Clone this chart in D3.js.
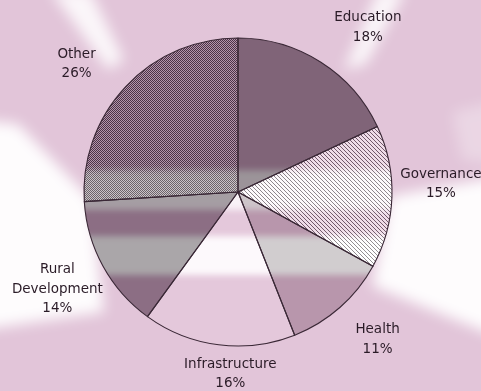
<!DOCTYPE html>
<html>
<head>
<meta charset="utf-8">
<script src="https://cdn.jsdelivr.net/npm/d3@7"></script>
<style>
  html, body { margin: 0; padding: 0; background: #e2c5d9; }
  svg { display: block; }
  text { font-family: "DejaVu Sans", Verdana, sans-serif; font-size: 13.5px; fill: #2a1b27; }
</style>
</head>
<body>
<svg id="chart" width="481" height="391"></svg>
<script>
// Funding share by sector (percent)
const categories = ["Education", "Governance", "Health", "Infrastructure", "Rural Development", "Other"];
const shares = [18, 15, 11, 16, 14, 26];
const labelLines = [["Education"], ["Governance"], ["Health"], ["Infrastructure"], ["Rural", "Development"], ["Other"]];

// slice fills (solid colours or pattern ids defined below)
const sliceFills = ["#806478", "url(#hatch)", "#b896ac", "#e4c8db", "#8c6e84", "url(#checker)"];
// small nudges that move each label box off the centroid ray
const labelNudge = [[20, 7], [-2, -16], [4, -8], [18, -23], [-1, -3], [-12, 11]];

const W = 481, H = 391;
const cx = 238, cy = 192, R = 154, labelR = 205, lineH = 19.5;

const svg = d3.select("#chart");
const defs = svg.append("defs");

// diagonal hatch
const hatch = defs.append("pattern").attr("id", "hatch")
  .attr("patternUnits", "userSpaceOnUse").attr("width", 4).attr("height", 4);
hatch.append("rect").attr("width", 4).attr("height", 4).attr("fill", "#efdce8");
hatch.append("path").attr("d", "M-1,-1L5,5M-1,3L1,5M3,-1L5,1")
  .attr("stroke", "#5a4054").attr("stroke-width", 0.85);

// fine checker dots
const checker = defs.append("pattern").attr("id", "checker")
  .attr("patternUnits", "userSpaceOnUse").attr("width", 2).attr("height", 2);
checker.append("rect").attr("width", 2).attr("height", 2).attr("fill", "#b495ab");
checker.append("rect").attr("x", 0).attr("y", 0).attr("width", 1).attr("height", 1).attr("fill", "#4b3347");
checker.append("rect").attr("x", 1).attr("y", 1).attr("width", 1).attr("height", 1).attr("fill", "#4b3347");

// soft blur for the background light streaks
defs.append("filter").attr("id", "soft").attr("x", "-50%").attr("y", "-50%").attr("width", "200%").attr("height", "200%")
  .append("feGaussianBlur").attr("stdDeviation", 7);

// washed-out grey look for the light bands crossing the pie
const wash = defs.append("filter").attr("id", "wash").attr("color-interpolation-filters", "sRGB");
const k = 0.93, off = 0.215;
wash.append("feColorMatrix").attr("type", "matrix").attr("values", [
  0.30 * k, 0.59 * k, 0.11 * k, 0, off + 0.01,
  0.30 * k, 0.59 * k, 0.11 * k, 0, off - 0.005,
  0.30 * k, 0.59 * k, 0.11 * k, 0, off + 0.005,
  0, 0, 0, 1, 0].join(" "));

const bandBlur = defs.append("filter").attr("id", "bandBlur").attr("x", "-10%").attr("y", "-50%").attr("width", "120%").attr("height", "200%");
bandBlur.append("feGaussianBlur").attr("stdDeviation", "0 3");

const bandMask = defs.append("mask").attr("id", "bands").attr("maskUnits", "userSpaceOnUse")
  .attr("x", 0).attr("y", 0).attr("width", W).attr("height", H);
const bandG = bandMask.append("g").attr("filter", "url(#bandBlur)");
bandG.append("rect").attr("x", 0).attr("y", 170).attr("width", W).attr("height", 40).attr("fill", "#d8d8d8");
bandG.append("rect").attr("x", 0).attr("y", 236).attr("width", W).attr("height", 39).attr("fill", "#ffffff");

// background
svg.append("rect").attr("width", W).attr("height", H).attr("fill", "#e2c5d9");

// light streaks behind the pie
const streaks = [
  [[50, -10], [90, -10], [124, 60], [108, 70]],
  [[378, -10], [406, -10], [366, 64], [344, 70]],
  [[-20, 120], [18, 124], [92, 200], [104, 312], [-20, 330]],
  [[390, 196], [500, 176], [500, 338], [372, 286]],
  [[452, 112], [500, 100], [500, 164], [462, 160]]
];
svg.append("g").attr("filter", "url(#soft)")
  .selectAll("path").data(streaks).join("path")
  .attr("d", d => "M" + d.join("L") + "Z")
  .attr("fill", "#ffffff").attr("opacity", (d, i) => i === 4 ? 0.3 : (i < 2 ? 0.85 : 0.95));

const data = categories.map((c, i) => ({ name: c, value: shares[i], fill: sliceFills[i], lines: labelLines[i], i }));
const pie = d3.pie().sort(null).value(d => d.value);
const arcs = pie(data);
const arc = d3.arc().innerRadius(0).outerRadius(R);
const labelArc = d3.arc().innerRadius(labelR).outerRadius(labelR);

const g = svg.append("g").attr("transform", `translate(${cx},${cy})`);

// slices
g.append("g").selectAll("path").data(arcs).join("path")
  .attr("d", arc).attr("fill", d => d.data.fill);

// same slices, greyed, seen through the light bands
g.append("g").attr("mask", "url(#bands)").attr("transform", `translate(${-cx},${-cy})`)
  .append("g").attr("filter", "url(#wash)").attr("transform", `translate(${cx},${cy})`)
  .selectAll("path").data(arcs).join("path")
  .attr("d", arc).attr("fill", d => d.data.fill);

// outlines
g.append("g").selectAll("path").data(arcs).join("path")
  .attr("d", arc).attr("fill", "none")
  .attr("stroke", "#3a2836").attr("stroke-width", 1.1).attr("stroke-linejoin", "round");

// labels
const labels = g.append("g").selectAll("text").data(arcs).join("text")
  .attr("text-anchor", "middle")
  .attr("transform", d => {
    const [x, y] = labelArc.centroid(d);
    const n = d.data.lines.length + 1;
    const nd = labelNudge[d.data.i];
    const top = y + nd[1] - ((n - 1) * lineH) / 2 + 5;
    return `translate(${x + nd[0]},${top})`;
  });
labels.each(function(d) {
  const t = d3.select(this);
  const rows = d.data.lines.concat([d.data.value + "%"]);
  rows.forEach((r, j) => t.append("tspan").attr("x", 0).attr("y", j * lineH).text(r));
});
</script>
</body>
</html>
